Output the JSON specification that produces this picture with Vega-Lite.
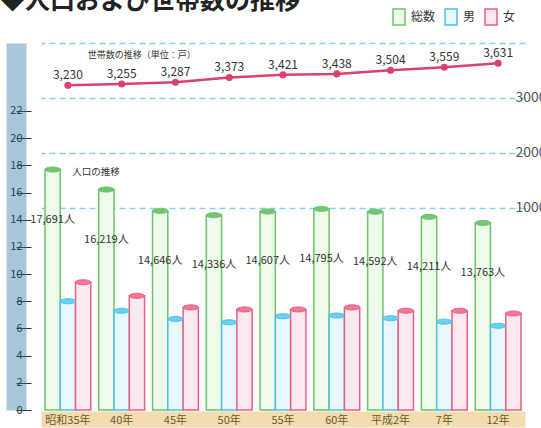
{
  "$schema": "https://vega.github.io/schema/vega-lite/v6.json",
  "autosize": {"type": "none"},
  "width": 484,
  "height": 367,
  "padding": {"left": 41, "top": 43, "right": 16, "bottom": 18},
  "background": "white",
  "config": {"font": "Noto Sans CJK JP", "view": {"stroke": null}},
  "title": {"text": "◆人口および世帯数の推移", "anchor": "start", "frame": "group", "fontSize": 25, "fontWeight": "bold", "color": "#222", "dx": -41, "offset": -6},
  "datasets": {
    "pop": [
      {"year": "昭和35年", "series": "総数", "value": 17.691, "label": "17,691人"},
      {"year": "昭和35年", "series": "男", "value": 8.0},
      {"year": "昭和35年", "series": "女", "value": 9.4},
      {"year": "40年", "series": "総数", "value": 16.219, "label": "16,219人"},
      {"year": "40年", "series": "男", "value": 7.3},
      {"year": "40年", "series": "女", "value": 8.4},
      {"year": "45年", "series": "総数", "value": 14.646, "label": "14,646人"},
      {"year": "45年", "series": "男", "value": 6.7},
      {"year": "45年", "series": "女", "value": 7.55},
      {"year": "50年", "series": "総数", "value": 14.336, "label": "14,336人"},
      {"year": "50年", "series": "男", "value": 6.45},
      {"year": "50年", "series": "女", "value": 7.4},
      {"year": "55年", "series": "総数", "value": 14.607, "label": "14,607人"},
      {"year": "55年", "series": "男", "value": 6.9},
      {"year": "55年", "series": "女", "value": 7.4},
      {"year": "60年", "series": "総数", "value": 14.795, "label": "14,795人"},
      {"year": "60年", "series": "男", "value": 6.95},
      {"year": "60年", "series": "女", "value": 7.55},
      {"year": "平成2年", "series": "総数", "value": 14.592, "label": "14,592人"},
      {"year": "平成2年", "series": "男", "value": 6.75},
      {"year": "平成2年", "series": "女", "value": 7.3},
      {"year": "7年", "series": "総数", "value": 14.211, "label": "14,211人"},
      {"year": "7年", "series": "男", "value": 6.5},
      {"year": "7年", "series": "女", "value": 7.3},
      {"year": "12年", "series": "総数", "value": 13.763, "label": "13,763人"},
      {"year": "12年", "series": "男", "value": 6.2},
      {"year": "12年", "series": "女", "value": 7.1}
    ],
    "hh": [
      {"year": "昭和35年", "households": 3230},
      {"year": "40年", "households": 3255},
      {"year": "45年", "households": 3287},
      {"year": "50年", "households": 3373},
      {"year": "55年", "households": 3421},
      {"year": "60年", "households": 3438},
      {"year": "平成2年", "households": 3504},
      {"year": "7年", "households": 3559},
      {"year": "12年", "households": 3631}
    ]
  },
  "encoding": {
    "x": {
      "field": "year", "type": "nominal",
      "sort": ["昭和35年", "40年", "45年", "50年", "55年", "60年", "平成2年", "7年", "12年"],
      "scale": {"paddingInner": 0, "paddingOuter": 0},
      "title": null,
      "axis": {"orient": "bottom", "offset": 9, "domainWidth": 16, "domainColor": "#dfaa3a", "domainOpacity": 0.4, "domainCap": "butt", "ticks": false, "labelPadding": -5, "labelFontSize": 11, "labelColor": "#222", "labelAngle": 0, "grid": false}
    }
  },
  "layer": [
    {
      "data": {"name": "pop"},
      "layer": [
        {
          "mark": {"type": "bar", "strokeWidth": 1.5},
          "encoding": {
            "xOffset": {"field": "series", "type": "nominal", "sort": ["総数", "男", "女"], "scale": {"paddingInner": 0, "paddingOuter": 0.26}},
            "y": {"field": "value", "type": "quantitative", "title": null,
                  "scale": {"domain": [0, 27], "nice": false},
                  "axis": {"orient": "left", "values": [0, 2, 4, 6, 8, 10, 12, 14, 16, 18, 20, 22], "tickCount": 14, "labelOverlap": false, "offset": 25, "domainWidth": 20, "domainColor": "#2873a2", "domainOpacity": 0.4, "domainCap": "butt", "tickSize": -15, "tickColor": "#333", "labelPadding": 9, "labelFontSize": 11, "labelColor": "#222", "grid": false}},
            "fill": {"field": "series", "type": "nominal", "sort": ["総数", "男", "女"],
                     "scale": {"domain": ["総数", "男", "女"], "range": ["#eefaea", "#e6f7fd", "#fce9ef"]},
                     "legend": {"title": null, "orient": "none", "legendX": 349, "legendY": -35, "direction": "horizontal", "symbolType": "M-0.75,-1H0.75V1H-0.75Z", "symbolSize": 256, "symbolStrokeWidth": 1.5, "labelFontSize": 12, "labelColor": "#333", "labelOffset": 3, "columnPadding": 6}},
            "stroke": {"field": "series", "type": "nominal", "sort": ["総数", "男", "女"],
                       "scale": {"domain": ["総数", "男", "女"], "range": ["#6cc46a", "#4cc0e8", "#ea5e84"]},
                       "legend": {"title": null, "orient": "none", "legendX": 349, "legendY": -35, "direction": "horizontal", "symbolType": "M-0.75,-1H0.75V1H-0.75Z", "symbolSize": 256, "symbolStrokeWidth": 1.5, "labelFontSize": 12, "labelColor": "#333", "labelOffset": 3, "columnPadding": 6}}
          }
        },
        {
          "mark": {"type": "point", "filled": true, "shape": "M-1,0A1,0.33,0,1,0,1,0A1,0.33,0,1,0,-1,0Z", "size": 230, "strokeWidth": 1, "opacity": 1},
          "encoding": {
            "xOffset": {"field": "series", "type": "nominal", "sort": ["総数", "男", "女"]},
            "y": {"field": "value", "type": "quantitative", "title": null},
            "color": {"field": "series", "type": "nominal", "scale": {"domain": ["総数", "男", "女"], "range": ["#74c474", "#6ad0f0", "#ef7896"]}, "legend": null},
            "stroke": {"field": "series", "type": "nominal", "sort": ["総数", "男", "女"]}
          }
        },
        {
          "transform": [{"filter": "datum.series === '総数'"}],
          "mark": {"type": "text", "dy": 50, "fontSize": 11, "color": "#333"},
          "encoding": {
            "xOffset": {"field": "series", "type": "nominal", "sort": ["総数", "男", "女"]},
            "y": {"field": "value", "type": "quantitative", "title": null},
            "text": {"field": "label"}
          }
        },
        {
          "data": {"values": [{"note": "人口の推移"}]},
          "mark": {"type": "text", "dx": 28, "fontSize": 9.5, "color": "#333"},
          "encoding": {
            "x": {"datum": "昭和35年"},
            "y": {"datum": 17.5, "type": "quantitative"},
            "text": {"field": "note"}
          }
        }
      ]
    },
    {
      "data": {"name": "hh"},
      "layer": [
        {
          "mark": {"type": "line", "color": "#d9426c", "strokeWidth": 2.5},
          "encoding": {
            "y": {"field": "households", "type": "quantitative", "title": null,
                  "scale": {"domain": [-2673, 4000], "nice": false, "zero": false},
                  "axis": {"orient": "right", "values": [1000, 2000, 3000, 4000], "format": "d", "labelExpr": "datum.value >= 4000 ? '' : datum.label", "offset": -12, "domain": false, "ticks": false, "labelPadding": 2, "labelFontSize": 14, "labelColor": "#555", "grid": true, "gridDash": [6, 4], "gridColor": "#86d0ee", "gridWidth": 1.3}}
          }
        },
        {
          "mark": {"type": "point", "filled": true, "size": 50, "color": "#d9426c", "opacity": 1},
          "encoding": {
            "y": {"field": "households", "type": "quantitative", "title": null}
          }
        },
        {
          "mark": {"type": "text", "dy": -10, "fontSize": 12, "color": "#333"},
          "encoding": {
            "y": {"field": "households", "type": "quantitative", "title": null},
            "text": {"field": "households", "type": "quantitative", "format": ","}
          }
        },
        {
          "data": {"values": [{"note": "世帯数の推移（単位：戸）"}]},
          "mark": {"type": "text", "dx": 20, "fontSize": 9, "color": "#333"},
          "encoding": {
            "x": {"datum": "40年"},
            "y": {"datum": 3775, "type": "quantitative"},
            "text": {"field": "note"}
          }
        }
      ]
    }
  ],
  "resolve": {"scale": {"y": "independent"}}
}
